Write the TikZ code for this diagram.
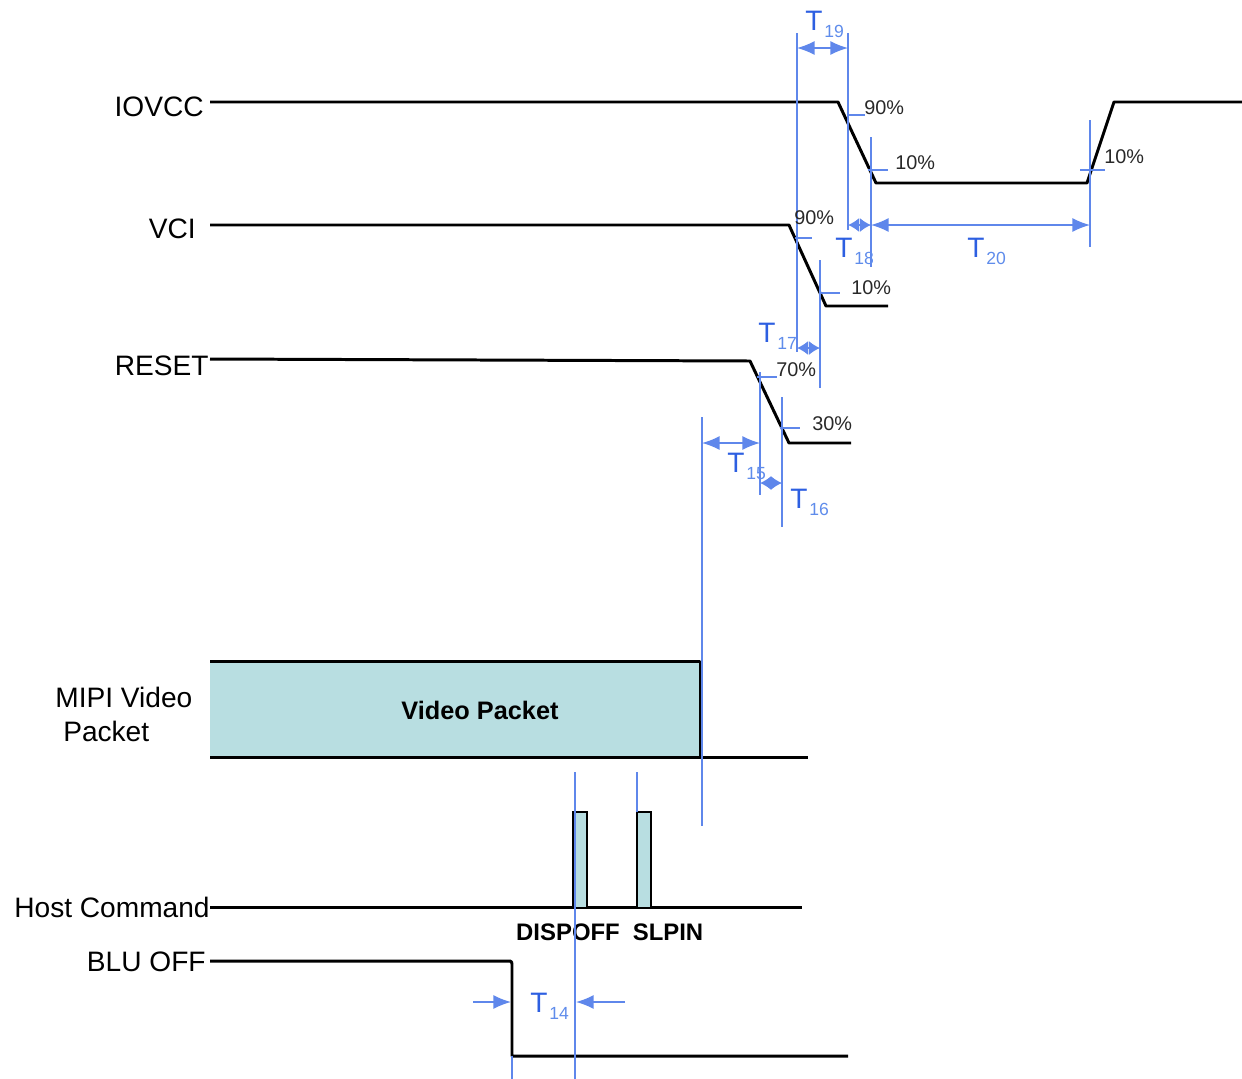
\documentclass[tikz,border=0pt]{standalone}
\usepackage{fontspec}
\setmainfont{Liberation Sans}
\usetikzlibrary{arrows.meta}
\definecolor{guidec}{RGB}{95,135,235}
\definecolor{tblue}{RGB}{45,95,225}
\definecolor{subblue}{RGB}{95,140,235}
\definecolor{pktfill}{RGB}{184,222,225}
\definecolor{pctc}{RGB}{40,40,40}
\newcommand{\tlab}[1]{T\kern1pt\raisebox{-4pt}{\color{subblue}\fontsize{10}{10}\selectfont #1}}
\begin{document}
\begin{tikzpicture}[x=0.02cm,y=-0.02cm,
  signal/.style={line width=1.7pt, line join=round},
  guide/.style={draw=guidec, line width=0.7pt},
  tickline/.style={draw=guidec, line width=0.6pt},
  dimline/.style={draw=guidec, line width=0.9pt, {Latex[length=10pt,width=8pt]}-{Latex[length=10pt,width=8pt]}},
  shortdim/.style={draw=guidec, line width=0.9pt, {Latex[length=6.3pt,width=8pt]}-{Latex[length=6.3pt,width=8pt]}},
  onearrow/.style={draw=guidec, line width=0.9pt, -{Latex[length=10pt,width=8pt]}},
  sname/.style={font=\fontsize{16}{19.3}\selectfont, inner sep=0pt},
  pctlab/.style={font=\fontsize{11.3}{12}\selectfont, text=pctc, inner sep=0pt, anchor=west},
  tlabel/.style={font=\fontsize{16}{16}\selectfont, text=tblue, inner sep=0pt, anchor=base west},
  cmdlab/.style={font=\bfseries\fontsize{13.6}{14}\selectfont, inner sep=0pt},
  pulse/.style={fill=pktfill, draw=black, line width=1.6pt}]

\useasboundingbox (0,0) rectangle (1242,1079);

% signal names
\node[sname, anchor=east] (iovcc) at (204,107) {IOVCC};
\node[sname, anchor=east] (vci) at (196,229) {VCI};
\node[sname, anchor=east] (reset) at (209,366) {RESET};
\node[sname, anchor=west, align=left] (mipi) at (55,714) {MIPI Video\\\hspace*{4.5pt}Packet};
\node[sname, anchor=east] (host) at (210,907) {Host Command};
\node[sname, anchor=east] (blu) at (206,962) {BLU OFF};

% MIPI video packet
\fill[pktfill] (210,661) rectangle (700,757);
\draw[signal] (210,661) -- (700,661) -- (700,757);
\draw[signal] (210,757) -- (808,757);
\node[font=\bfseries\fontsize{14.4}{15}\selectfont, inner sep=0pt] (vp) at (480,710) {Video Packet};

% signals
\draw[signal] (210,102) -- (838,102) -- (876,183) -- (1087,183) -- (1114,102) -- (1242,102);
\draw[signal] (210,225) -- (789,225) -- (826,306) -- (888,306);
\draw[signal] (210,359) -- (750,361) -- (789,443) -- (851,443);
\draw[signal] (210,907) -- (802,907);
\draw[pulse] (573,907) -- (573,812) -- (587,812) -- (587,907);
\draw[pulse] (637,907) -- (637,812) -- (651,812) -- (651,907);
\draw[signal] (210,961) -- (510,961) to[out=0,in=90] (512,964) -- (512,1056) -- (848,1056);

\node[cmdlab] (dispoff) at (568,932) {DISPOFF};
\node[cmdlab] (slpin) at (668,932) {SLPIN};

% guide lines
\draw[guide] (797,33) -- (797,352);
\draw[guide] (848,33) -- (848,230);
\draw[guide] (871,137) -- (871,267);
\draw[guide] (1090,120) -- (1090,247);
\draw[guide] (820,260) -- (820,388);
\draw[guide] (760,372) -- (760,495);
\draw[guide] (782,397) -- (782,527);
\draw[guide] (702,417) -- (702,826);
\draw[guide] (575,772) -- (575,1079);
\draw[guide] (637,772) -- (637,812);
\draw[guide] (512,1056) -- (512,1079);

% level ticks
\draw[tickline] (847,115) -- (865,115);
\draw[tickline] (868,170) -- (888,170);
\draw[tickline] (1080,170) -- (1105,170);
\draw[tickline] (795,238) -- (812,238);
\draw[tickline] (820,293) -- (840,293);
\draw[tickline] (757,377) -- (777,377);
\draw[tickline] (780,428) -- (800,428);

% percent labels
\node[pctlab] (p1) at (864,108) {90\%};
\node[pctlab] (p2) at (895,163) {10\%};
\node[pctlab] (p3) at (1104,157) {10\%};
\node[pctlab] (p4) at (794,218) {90\%};
\node[pctlab] (p5) at (851,288) {10\%};
\node[pctlab] (p6) at (776,370) {70\%};
\node[pctlab] (p7) at (812,424) {30\%};

% dimension arrows
\draw[dimline] (797,48) -- (848,48);
\draw[shortdim] (848,225) -- (871,225);
\draw[dimline] (871,225) -- (1090,225);
\draw[shortdim] (797,348) -- (820,348);
\draw[dimline] (702,443) -- (760,443);
\draw[shortdim] (760,483) -- (782,483);
\draw[onearrow] (473,1002) -- (511,1002);
\draw[onearrow] (625,1002) -- (576,1002);

% timing labels
\node[tlabel] (t19) at (805,30) {\tlab{19}};
\node[tlabel] (t18) at (835,257) {\tlab{18}};
\node[tlabel] (t20) at (967,257) {\tlab{20}};
\node[tlabel] (t17) at (758,342) {\tlab{17}};
\node[tlabel] (t15) at (727,472) {\tlab{15}};
\node[tlabel] (t16) at (790,508) {\tlab{16}};
\node[tlabel] (t14) at (530,1012) {\tlab{14}};
\end{tikzpicture}
\end{document}
